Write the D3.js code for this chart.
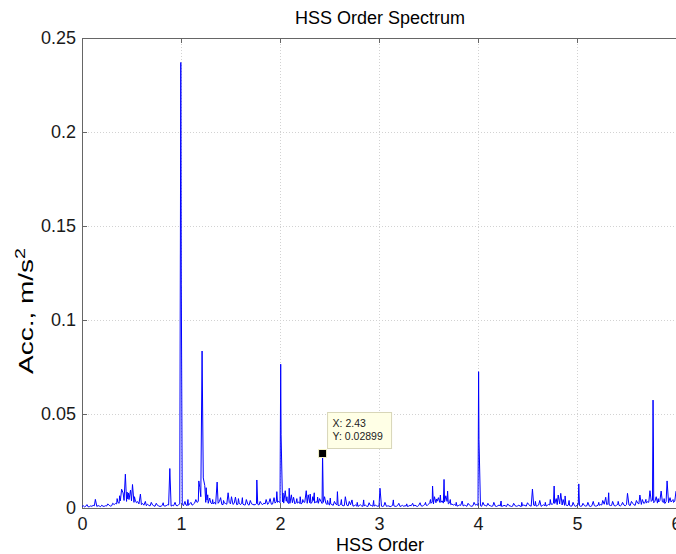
<!DOCTYPE html>
<html>
<head>
<meta charset="utf-8">
<script src="https://cdn.jsdelivr.net/npm/d3@7"></script>
<style>
  body { margin: 0; background: #fff; }
  text { font-family: "Liberation Sans", Arial, Helvetica, sans-serif; }
</style>
</head>
<body>
<svg id="chart"></svg>
<script>
// spectrum floor, one value per 0.0125 order from 0 to 6 (20 values per row = 0.25 order)
var floorStart = 0, floorStep = 0.0125;
var floorAmps = [
  0.0008,0.0012,0.0006,0.0009,0.0010,0.0006,0.0007,0.0011,0.0009,0.0014,0.0012,0.0008,0.0008,0.0013,0.0010,0.0007,0.0013,0.0009,0.0009,0.0012,
  0.0011,0.0016,0.0014,0.0010,0.0012,0.0020,0.0018,0.0024,0.0022,0.0030,0.0025,0.0038,0.0032,0.0028,0.0040,0.0052,0.0035,0.0048,0.0045,0.0060,
  0.0038,0.0055,0.0030,0.0042,0.0028,0.0034,0.0022,0.0026,0.0018,0.0024,0.0015,0.0019,0.0012,0.0020,0.0014,0.0011,0.0010,0.0016,0.0012,0.0009,
  0.0009,0.0014,0.0011,0.0008,0.0010,0.0015,0.0013,0.0010,0.0012,0.0017,0.0016,0.0012,0.0010,0.0014,0.0012,0.0016,0.0014,0.0011,0.0018,0.0022,
  0.0015,0.0020,0.0012,0.0017,0.0016,0.0013,0.0014,0.0022,0.0018,0.0015,0.0020,0.0026,0.0016,0.0030,0.0035,0.0045,0.0060,0.0075,0.0040,0.0055,
  0.0030,0.0042,0.0025,0.0033,0.0028,0.0022,0.0022,0.0030,0.0020,0.0026,0.0025,0.0034,0.0022,0.0019,0.0018,0.0027,0.0024,0.0020,0.0020,0.0029,
  0.0022,0.0030,0.0019,0.0025,0.0023,0.0018,0.0020,0.0028,0.0018,0.0024,0.0021,0.0016,0.0017,0.0023,0.0020,0.0015,0.0016,0.0022,0.0019,0.0017,
  0.0018,0.0024,0.0020,0.0016,0.0016,0.0022,0.0018,0.0026,0.0022,0.0018,0.0019,0.0028,0.0024,0.0020,0.0021,0.0030,0.0026,0.0034,0.0030,0.0036,
  0.0028,0.0040,0.0032,0.0026,0.0027,0.0036,0.0030,0.0024,0.0025,0.0034,0.0028,0.0022,0.0022,0.0030,0.0026,0.0032,0.0024,0.0021,0.0027,0.0033,
  0.0030,0.0038,0.0025,0.0032,0.0028,0.0024,0.0032,0.0040,0.0026,0.0034,0.0030,0.0025,0.0028,0.0036,0.0024,0.0030,0.0020,0.0026,0.0018,0.0022,
  0.0016,0.0022,0.0018,0.0014,0.0015,0.0021,0.0017,0.0013,0.0014,0.0019,0.0016,0.0012,0.0013,0.0018,0.0015,0.0011,0.0012,0.0017,0.0014,0.0010,
  0.0012,0.0016,0.0010,0.0008,0.0013,0.0017,0.0011,0.0009,0.0012,0.0015,0.0010,0.0008,0.0011,0.0014,0.0013,0.0009,0.0010,0.0015,0.0012,0.0009,
  0.0011,0.0014,0.0010,0.0008,0.0012,0.0016,0.0009,0.0011,0.0011,0.0007,0.0010,0.0014,0.0012,0.0009,0.0009,0.0013,0.0010,0.0008,0.0011,0.0014,
  0.0009,0.0012,0.0011,0.0008,0.0010,0.0014,0.0012,0.0009,0.0010,0.0015,0.0011,0.0008,0.0013,0.0017,0.0012,0.0010,0.0014,0.0019,0.0016,0.0013,
  0.0020,0.0028,0.0025,0.0032,0.0022,0.0030,0.0028,0.0036,0.0024,0.0030,0.0030,0.0038,0.0026,0.0033,0.0028,0.0035,0.0022,0.0027,0.0018,0.0022,
  0.0015,0.0019,0.0013,0.0010,0.0012,0.0016,0.0014,0.0011,0.0011,0.0015,0.0013,0.0009,0.0012,0.0016,0.0011,0.0009,0.0013,0.0017,0.0015,0.0019,
  0.0014,0.0018,0.0012,0.0009,0.0011,0.0015,0.0013,0.0010,0.0010,0.0014,0.0012,0.0009,0.0011,0.0015,0.0010,0.0008,0.0012,0.0016,0.0011,0.0009,
  0.0010,0.0014,0.0012,0.0008,0.0009,0.0013,0.0011,0.0008,0.0010,0.0014,0.0012,0.0009,0.0011,0.0015,0.0010,0.0008,0.0012,0.0016,0.0013,0.0010,
  0.0014,0.0018,0.0012,0.0010,0.0011,0.0015,0.0013,0.0010,0.0012,0.0016,0.0011,0.0009,0.0013,0.0017,0.0012,0.0010,0.0014,0.0019,0.0016,0.0021,
  0.0020,0.0026,0.0024,0.0030,0.0018,0.0024,0.0022,0.0028,0.0016,0.0020,0.0014,0.0018,0.0012,0.0016,0.0013,0.0010,0.0011,0.0015,0.0012,0.0009,
  0.0014,0.0018,0.0012,0.0009,0.0011,0.0015,0.0013,0.0010,0.0012,0.0016,0.0010,0.0008,0.0012,0.0016,0.0013,0.0010,0.0011,0.0015,0.0014,0.0018,
  0.0016,0.0022,0.0020,0.0026,0.0018,0.0022,0.0016,0.0013,0.0014,0.0019,0.0013,0.0011,0.0015,0.0020,0.0014,0.0011,0.0016,0.0021,0.0015,0.0012,
  0.0018,0.0024,0.0016,0.0013,0.0019,0.0025,0.0017,0.0014,0.0020,0.0026,0.0022,0.0018,0.0019,0.0026,0.0024,0.0030,0.0026,0.0034,0.0030,0.0038,
  0.0035,0.0042,0.0028,0.0036,0.0030,0.0026,0.0032,0.0040,0.0026,0.0033,0.0030,0.0024,0.0034,0.0042,0.0028,0.0035,0.0032,0.0040,0.0030,0.0036,
  0.0028
];

// spectral lines (order, amplitude)
var peakOrders = [
  0.05,0.135,0.20,0.26,0.31,0.355,0.38,0.40,0.415,0.438,0.455,0.47,0.49,0.51,0.53,0.59,0.64,0.70,0.75,0.82,
  0.887,0.94,0.998,1.003,1.04,1.07,1.10,1.15,1.18,1.19,1.213,1.225,1.24,1.254,1.27,1.29,1.32,1.365,1.40,1.43,
  1.476,1.51,1.55,1.58,1.62,1.66,1.70,1.766,1.80,1.86,1.90,1.94,1.968,2.007,2.011,2.03,2.053,2.07,2.093,2.115,
  2.137,2.17,2.204,2.23,2.265,2.285,2.305,2.33,2.346,2.38,2.40,2.43,2.45,2.48,2.508,2.55,2.58,2.62,2.66,2.70,
  2.727,2.78,2.845,2.90,2.946,3.01,3.06,3.145,3.20,3.28,3.34,3.415,3.47,3.52,3.541,3.56,3.582,3.60,3.62,3.657,
  3.675,3.693,3.72,3.78,3.84,3.90,3.96,4.006,4.010,4.05,4.10,4.16,4.233,4.30,4.36,4.442,4.50,4.55,4.58,4.624,
  4.68,4.73,4.769,4.79,4.81,4.836,4.86,4.88,4.92,4.96,5.018,5.06,5.11,5.164,5.22,5.26,5.29,5.32,5.36,5.416,
  5.46,5.51,5.55,5.60,5.635,5.66,5.696,5.737,5.768,5.772,5.80,5.82,5.85,5.88,5.91,5.94,5.97,6.00
];
var peakAmps = [
  0.0018,0.0046,0.0015,0.0022,0.0025,0.0050,0.0065,0.0100,0.0080,0.0180,0.0085,0.0080,0.0095,0.0125,0.0060,0.0074,0.0035,0.0030,0.0025,0.0028,
  0.0210,0.0030,0.2370,0.1190,0.0035,0.0045,0.0030,0.0045,0.0144,0.0110,0.0835,0.0160,0.0120,0.0108,0.0070,0.0053,0.0045,0.0138,0.0055,0.0040,
  0.0081,0.0060,0.0058,0.0050,0.0055,0.0045,0.0040,0.0149,0.0035,0.0045,0.0050,0.0055,0.0087,0.0765,0.0390,0.0080,0.0092,0.0060,0.0105,0.0070,
  0.0057,0.0050,0.0060,0.0045,0.0092,0.0070,0.0074,0.0060,0.0081,0.0058,0.0050,0.02899,0.0060,0.0040,0.0053,0.0035,0.0087,0.0045,0.0060,0.0035,
  0.0043,0.0030,0.0043,0.0028,0.0040,0.0105,0.0030,0.0043,0.0025,0.0022,0.0025,0.0028,0.0030,0.0045,0.0117,0.0060,0.0048,0.0055,0.0069,0.0152,
  0.0065,0.0090,0.0045,0.0030,0.0037,0.0025,0.0030,0.0725,0.0365,0.0030,0.0025,0.0030,0.0037,0.0022,0.0025,0.0030,0.0028,0.0101,0.0035,0.0040,
  0.0030,0.0045,0.0117,0.0050,0.0069,0.0078,0.0045,0.0064,0.0040,0.0030,0.0128,0.0025,0.0030,0.0035,0.0030,0.0040,0.0057,0.0081,0.0035,0.0035,
  0.0030,0.0078,0.0035,0.0040,0.0069,0.0045,0.0046,0.0092,0.0574,0.0335,0.0060,0.0050,0.0090,0.0050,0.0144,0.0055,0.0045,0.0090
];

var xTicks = [0, 1, 2, 3, 4, 5, 6];
var yTicks = [0, 0.05, 0.1, 0.15, 0.2, 0.25];
var tipOrder = 2.43, tipAmp = 0.02899;

var width = 676, height = 554;
var margin = {top: 38, right: 0, bottom: 46, left: 82};

var svg = d3.select('#chart')
  .attr('width', width)
  .attr('height', height);

svg.append('rect').attr('width', width).attr('height', height).attr('fill', '#fff');

var x = d3.scaleLinear().domain([0, 6]).range([margin.left, 676]);
var y = d3.scaleLinear().domain([0, 0.25]).range([height - margin.bottom, margin.top]);

// build the series: floor points plus the lines, sorted by order
var points = [];
floorAmps.forEach(function(a, i) {
  var o = floorStart + i * floorStep;
  var nearPeak = peakOrders.some(function(p) { return Math.abs(p - o) < 0.003; });
  if (!nearPeak) points.push([o, a]);
});
peakOrders.forEach(function(o, i) { points.push([o, peakAmps[i]]); });
points.sort(function(a, b) { return a[0] - b[0]; });

// grid
var grid = svg.append('g').attr('stroke', '#d2d2d2').attr('stroke-dasharray', '1,2');
grid.selectAll('.gx').data(xTicks.slice(1, -1)).enter().append('line')
  .attr('x1', function(d) { return Math.round(x(d)) + 0.5; })
  .attr('x2', function(d) { return Math.round(x(d)) + 0.5; })
  .attr('y1', y(0.25)).attr('y2', y(0));
grid.selectAll('.gy').data(yTicks.slice(1, -1)).enter().append('line')
  .attr('y1', function(d) { return Math.round(y(d)) + 0.5; })
  .attr('y2', function(d) { return Math.round(y(d)) + 0.5; })
  .attr('x1', x(0)).attr('x2', width);

// axes (inward ticks, MATLAB style)
var bottomAxis = d3.axisBottom(x).tickValues(xTicks).tickSize(-5).tickPadding(9).tickFormat(d3.format('d'));
var leftAxis = d3.axisLeft(y).tickValues(yTicks).tickSize(-5).tickPadding(6).tickFormat(function(d) { return d === 0 ? '0' : String(d); });
var topAxis = d3.axisTop(x).tickValues(xTicks).tickSize(-5).tickFormat('');

var gb = svg.append('g').attr('transform', 'translate(0,' + y(0) + ')').call(bottomAxis);
var gl = svg.append('g').attr('transform', 'translate(' + x(0) + ',0)').call(leftAxis);
var gt = svg.append('g').attr('transform', 'translate(0,' + y(0.25) + ')').call(topAxis);

[gb, gl, gt].forEach(function(g) {
  g.select('.domain').attr('stroke', '#666');
  g.selectAll('.tick line').attr('stroke', '#666');
  g.selectAll('.tick text').attr('fill', '#1a1a1a').style('font-size', '18px')
    .style('font-family', '"Liberation Sans", Arial, sans-serif');
});

// spectrum line
var line = d3.line()
  .x(function(d) { return x(d[0]); })
  .y(function(d) { return y(d[1]); });

svg.append('path')
  .datum(points)
  .attr('fill', 'none')
  .attr('stroke', '#0000ff')
  .attr('stroke-width', 1)
  .attr('d', line);

// redraw the baseline axis over the spectrum
svg.append('line')
  .attr('x1', x(0)).attr('x2', width)
  .attr('y1', y(0) + 0.5).attr('y2', y(0) + 0.5)
  .attr('stroke', '#666');

// data tip
var tx = x(tipOrder), ty = y(tipAmp);
svg.append('rect')
  .attr('x', tx - 4).attr('y', ty - 4)
  .attr('width', 8).attr('height', 8)
  .attr('fill', '#000').attr('stroke', '#f2f0c8').attr('stroke-width', 1);

var tip = svg.append('g').attr('transform', 'translate(' + (tx + 5) + ',' + (ty - 41) + ')');
tip.append('rect')
  .attr('width', 64).attr('height', 36)
  .attr('fill', '#ffffe6').attr('stroke', '#d8d6b8');
tip.append('text').attr('x', 5).attr('y', 15).style('font-size', '10.5px').attr('fill', '#222')
  .text('X: ' + tipOrder);
tip.append('text').attr('x', 5).attr('y', 28).style('font-size', '10.5px').attr('fill', '#222')
  .text('Y: ' + tipAmp);

// titles
svg.append('text')
  .attr('x', 380).attr('y', 24)
  .attr('text-anchor', 'middle')
  .style('font-size', '18px')
  .text('HSS Order Spectrum');

svg.append('text')
  .attr('x', 380).attr('y', 551)
  .attr('text-anchor', 'middle')
  .style('font-size', '18px')
  .text('HSS Order');

var ylab = svg.append('text')
  .attr('transform', 'translate(33,311) rotate(-90) scale(1.4,1)')
  .attr('text-anchor', 'middle')
  .style('font-size', '20px');
ylab.append('tspan').text('Acc., m/s');
ylab.append('tspan').attr('dy', -8).style('font-size', '14px').text('2');
</script>
</body>
</html>
